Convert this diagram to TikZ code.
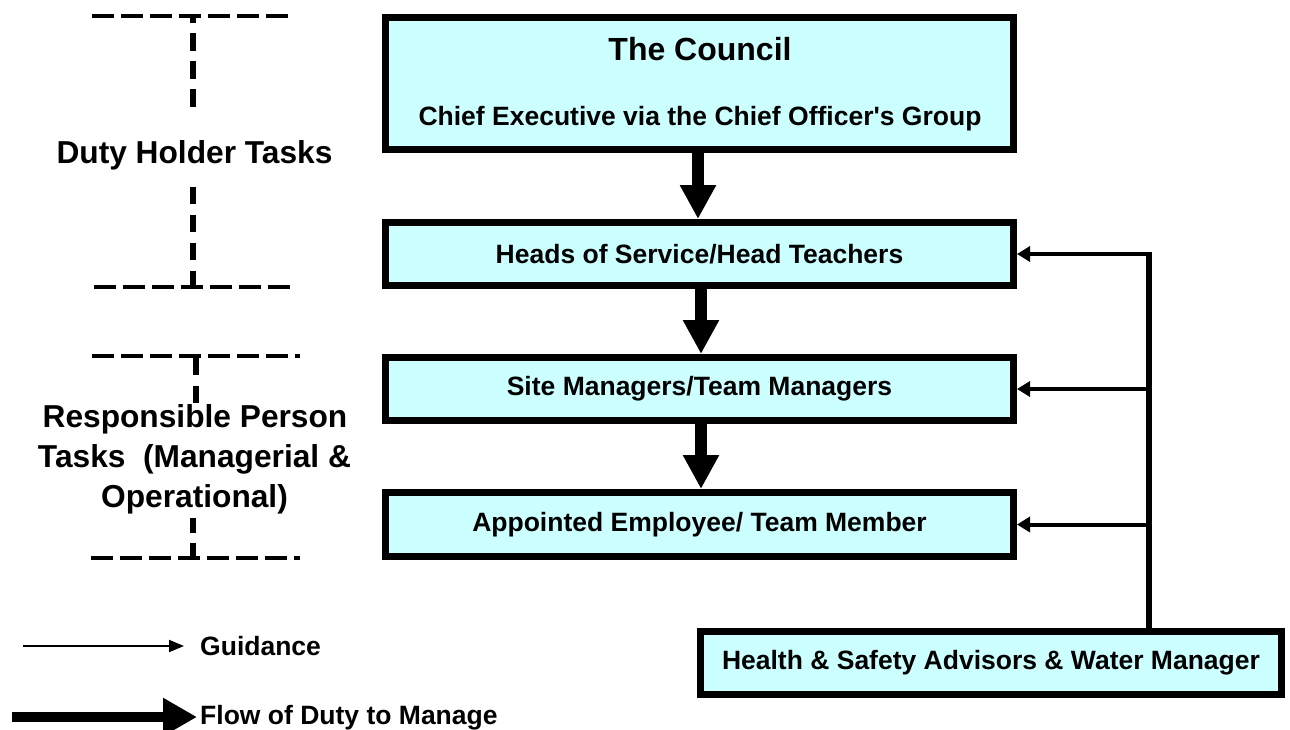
\documentclass[tikz,border=0pt]{standalone}
\usepackage{fontspec}
\setmainfont{Liberation Sans}
\usetikzlibrary{arrows.meta}
\definecolor{boxfill}{RGB}{204,255,255}
\begin{document}
\begin{tikzpicture}[x=1pt,y=-1pt,
  box/.style={draw=black,line width=7pt,fill=boxfill,inner sep=0pt},
  boxtext/.style={inner sep=0pt,font=\bfseries\fontsize{26.5}{32}\selectfont},
  duty/.style={line width=12pt,-{Triangle[width=34pt,length=34pt]}},
  guide/.style={line width=4pt,-{Triangle[width=15pt,length=13pt]}},
  hdash/.style={line width=4pt,dash pattern=on 22pt off 7pt},
  vdash/.style={line width=6pt,dash pattern=on 17pt off 11pt},
  lbl/.style={inner sep=0pt,font=\bfseries\fontsize{31.7}{40}\selectfont},
  legtext/.style={inner sep=0pt,font=\bfseries\fontsize{26.5}{32}\selectfont},
]
\useasboundingbox[fill=white] (0,0) rectangle (1290,729);

% boxes
\node[box,minimum width=628pt,minimum height=132pt] (council) at (699.5,83.5) {};
\node[boxtext,anchor=base,font=\bfseries\fontsize{32}{38}\selectfont] (title) at (700,60) {The Council};
\node[boxtext,anchor=base] (chief) at (700,125) {Chief Executive via the Chief Officer\textquotesingle s Group};
\node[box,boxtext,minimum width=628pt,minimum height=63pt] (heads) at (699.5,254) {Heads of Service/Head Teachers};
\node[box,boxtext,minimum width=628pt,minimum height=63pt] (site) at (699.5,389) {Site Managers/Team Managers};
\node[box,boxtext,minimum width=628pt,minimum height=64pt] (appt) at (699.5,524.5) {Appointed Employee/ Team Member};
\node[box,boxtext,minimum width=581pt,minimum height=63pt] (hs) at (991,663) {Health \& Safety Advisors \& Water Manager};

% flow of duty arrows
\draw[duty] (council.south -| 698,0) -- (heads.north -| 698,0);
\draw[duty] (heads.south -| 701,0) -- (site.north -| 701,0);
\draw[duty] (site.south -| 701,0) -- (appt.north -| 701,0);

% guidance
\coordinate (vx) at (1149,0);
\draw[line width=6pt] (hs.north -| vx) -- ([yshift=2pt]heads.east -| vx);
\draw[guide] ([xshift=3pt]heads.east -| vx) -- (heads.east);
\draw[guide] (site.east -| vx) -- (site.east);
\draw[guide] (appt.east -| vx) -- (appt.east);

% left brackets
\draw[hdash] (92,16) -- (292,16);
\draw[vdash,dash pattern=on 18pt off 10pt,dash phase=11pt] (193,16) -- (193,107);
\draw[vdash] (193,187) -- (193,287);
\draw[hdash] (94,287) -- (294,287);
\node[lbl,anchor=base] (duty) at (194.5,163) {Duty Holder Tasks};

\draw[hdash] (92,356) -- (300,356);
\draw[vdash] (196,358) -- (196,404);
\draw[vdash,dash pattern=on 15pt off 10pt] (193,518) -- (193,558);
\draw[hdash] (91,558) -- (300,558);
\node[lbl,anchor=base] (rp1) at (195,427) {Responsible Person};
\node[lbl,anchor=base] (rp2) at (194.5,467) {Tasks\ \ (Managerial \&};
\node[lbl,anchor=base] (rp3) at (194.5,507) {Operational)};

% legend
\coordinate (g0) at (23,646);
\coordinate (g1) at (184,646);
\draw[line width=2pt,-{Triangle[width=12pt,length=15pt]}] (g0) -- (g1);
\node[legtext,anchor=base west] (gtext) at (200,655) {Guidance};
\coordinate (f0) at (12,717);
\coordinate (f1) at (197,717);
\draw[line width=10pt,-{Triangle[width=36pt,length=34pt]}] (f0) -- (f1);
\node[legtext,anchor=base west] (ftext) at (200,724) {Flow of Duty to Manage};
\end{tikzpicture}
\end{document}
